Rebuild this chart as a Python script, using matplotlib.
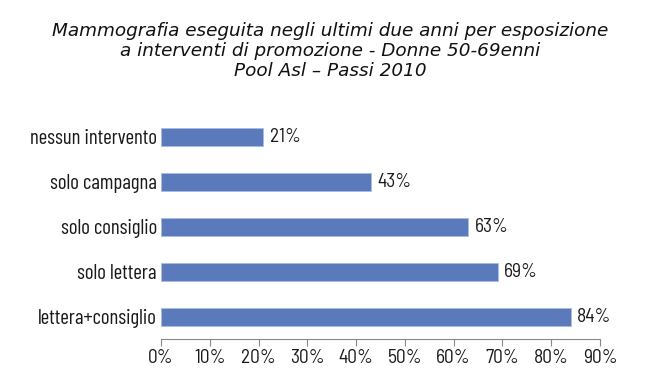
import matplotlib
matplotlib.use("Agg")
import matplotlib.pyplot as plt
from matplotlib.ticker import FuncFormatter

categories = ["nessun intervento", "solo campagna", "solo consiglio", "solo lettera", "lettera+consiglio"]
values = [21, 43, 63, 69, 84]
xticks = [0, 10, 20, 30, 40, 50, 60, 70, 80, 90]

cat_family = ["Barlow Condensed", "DejaVu Sans"]
num_family = ["Barlow Semi Condensed", "DejaVu Sans"]
cat_size = 15
num_size = 14

fig = plt.figure(figsize=(6.6, 3.85), dpi=100)
ax = fig.add_axes([161/660, 1-339/385, (600-161)/660, (339-114.5)/385])

ypos = list(range(len(categories)))[::-1]
ax.barh(ypos, values, height=0.4, color="#5a7abb", edgecolor="#a9bbdf", linewidth=0.6)
for y, v in zip(ypos, values):
    ax.annotate(f"{v}%", (v, y), xytext=(4.5, 0), textcoords="offset points",
                va="center", ha="left", family=num_family, fontsize=num_size, color="#1a1a1a")

ax.set_ylim(-0.5, len(categories)-0.5)
ax.set_xlim(0, 90)
ax.set_yticks(ypos)
ax.set_yticklabels(categories, family=cat_family, fontsize=cat_size, color="#1a1a1a")
ax.set_xticks(xticks)
ax.xaxis.set_major_formatter(FuncFormatter(lambda x, p: f"{int(x)}%"))
for lab in ax.get_xticklabels():
    lab.set_family(num_family)
    lab.set_fontsize(num_size)
    lab.set_color("#1a1a1a")
ax.tick_params(axis="y", length=0, pad=3)
ax.tick_params(axis="x", length=5, direction="out", color="#888888", pad=2)
for s in ["top", "right", "left"]:
    ax.spines[s].set_visible(False)
ax.spines["bottom"].set_color("#888888")
ax.spines["bottom"].set_linewidth(0.8)

fig.text(0.5, 1-51/385, "Mammografia eseguita negli ultimi due anni per esposizione\na interventi di promozione - Donne 50-69enni\nPool Asl \u2013 Passi 2010",
         ha="center", va="center", style="italic", fontsize=13.2, family="DejaVu Sans", linespacing=1.17, color="#111111")

fig.savefig("out.png", dpi=100)
